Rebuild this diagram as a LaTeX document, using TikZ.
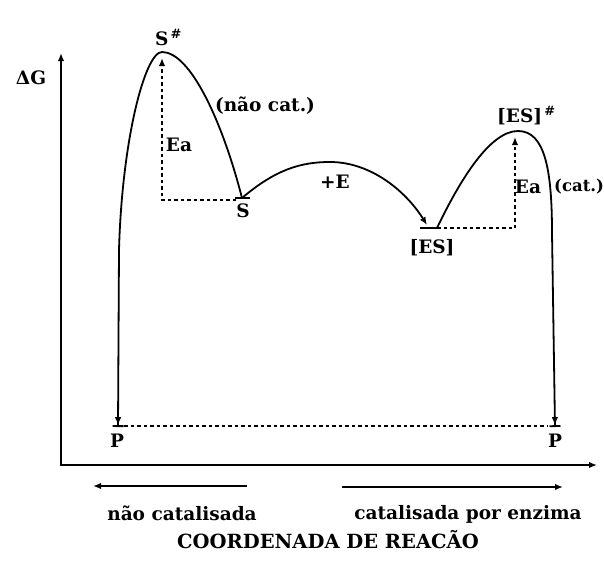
\documentclass[tikz,border=0pt]{standalone}
\usepackage{fontspec}
\setmainfont{DejaVu Serif}
\usetikzlibrary{arrows.meta}
\definecolor{ink}{RGB}{0,0,0}

\begin{document}
\begin{tikzpicture}[x=1pt,y=-1pt,
    lbl/.style={font=\bfseries\fontsize{18.5}{20}\selectfont, inner sep=0pt, text=ink},
    curve/.style={draw=ink, line width=1.8pt},
    guide/.style={draw=ink, line width=1.7pt, dash pattern=on 3.5pt off 3pt},
    tip/.style={-{Latex[length=8pt,width=6.5pt]}},
    tipbar/.style={-{Latex[length=8pt,width=6.5pt]Bar[width=11pt]}}]
  \useasboundingbox (0,0) rectangle (604,562);
  % axes
  \coordinate (yTop) at (61,53);
  \coordinate (origin) at (61,465);
  \coordinate (xEnd) at (597,465);
  \draw[curve, {Latex[length=8pt,width=6.5pt]}-{Latex[length=8pt,width=6.5pt]}]
    (yTop) -- (origin) -- (xEnd);
  % points of the profile
  \coordinate (sMin) at (242,198);
  \coordinate (sPeak) at (162,52);
  \coordinate (sFall) at (119,250);
  \coordinate (pLeft) at (118,427);
  \coordinate (eTop) at (330,162);
  \coordinate (esIn) at (427,225);
  \coordinate (esMin) at (437,228);
  \coordinate (esPeak) at (518,131);
  \coordinate (esFall) at (552,233);
  \coordinate (pRight) at (555,427);
  % non catalysed
  \draw[curve, tipbar] (sMin) .. controls (222,120) and (190,52) .. (sPeak)
    .. controls (145,52) and (122,140) .. (sFall) -- (pLeft);
  % S + E -> [ES]
  \draw[curve, tip] (sMin) .. controls (275,170) and (300,162) .. (eTop)
    .. controls (370,162) and (405,190) .. (esIn);
  % catalysed
  \draw[curve, tipbar] (esMin) .. controls (460,180) and (490,131) .. (esPeak)
    .. controls (545,131) and (552,170) .. (esFall) -- (pRight);
  % small ticks at the minima
  \draw[curve] ([xshift=-7pt]sMin) -- ([xshift=8pt]sMin);
  \draw[curve] ([xshift=-17pt]esMin) -- (esMin);
  % activation energies
  \coordinate (sBase) at (236,200);
  \coordinate (eaLow) at (162,200);
  \coordinate (eaHigh) at (162,58);
  \draw[guide, tip] (sBase) -- (eaLow) -- (eaHigh);
  \coordinate (eaCatLow) at (515,228);
  \coordinate (eaCatHigh) at (515,137);
  \draw[guide, tip] (esMin) -- (eaCatLow) -- (eaCatHigh);
  \draw[guide, shorten <=6pt, shorten >=7pt] ([yshift=1pt]pLeft) -- ([yshift=1pt]pRight);
  % direction arrows
  \coordinate (leftA) at (247,486);
  \coordinate (leftB) at (93,486);
  \coordinate (rightA) at (342,487);
  \coordinate (rightB) at (563,487);
  \draw[curve, tip] (leftA) -- (leftB);
  \draw[curve, tip] (rightA) -- (rightB);
  % labels
  \node[lbl] (dG) at (31,78) {ΔG};
  \node[lbl, anchor=base west] (sTS) at (155,45) {S\textsuperscript{\,\#}};
  \node[lbl] (nonCat) at (265,106) {(não cat.)};
  \node[lbl] (eaNon) at (179,145) {Ea};
  \node[lbl] (sLbl) at (243,211) {S};
  \node[lbl] (plusE) at (335,182) {+E};
  \node[lbl] (esLbl) at (432,248) {[ES]};
  \node[lbl, anchor=base west] (esTS) at (497,122) {[ES]\textsuperscript{\,\#}};
  \node[lbl] (eaCat) at (528,187) {Ea};
  \node[lbl, font=\bfseries\fontsize{16.5}{18}\selectfont, anchor=west] (catLbl)
    at (554,187) {(cat.)};
  \node[lbl] (pLLbl) at (117,441) {P};
  \node[lbl] (pRLbl) at (555,441) {P};
  \node[lbl] (nonCatDir) at (182,513) {não catalisada};
  \node[lbl] (catDir) at (468,514) {catalisada por enzima};
  \node[lbl, font=\bfseries\fontsize{19.5}{21}\selectfont, anchor=base] (coord)
    at (328,548) {COORDENADA DE REACÃO};
\end{tikzpicture}
\end{document}
